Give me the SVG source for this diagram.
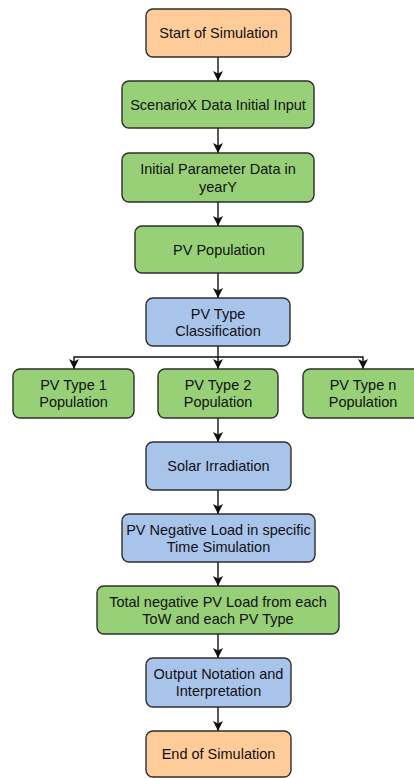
<svg xmlns="http://www.w3.org/2000/svg" width="414" height="778" viewBox="0 0 414 778">
  <style>
    .box { stroke: #2e2e2e; stroke-width: 1.4; }
    .term { fill: #ffcc99; }
    .proc { fill: #97d077; }
    .info { fill: #a9c4eb; }
    .lbl { font-family: "Liberation Sans", Arial, sans-serif; font-size: 14.5px; fill: #111111; text-anchor: middle; dominant-baseline: central; }
    .edge { stroke: #111111; stroke-width: 1.4; fill: none; marker-end: url(#arrow); }
  </style>
  <defs>
    <marker id="arrow" viewBox="0 0 10 10" refX="10" refY="5" markerWidth="10" markerHeight="10" markerUnits="userSpaceOnUse" orient="auto">
      <path d="M0,0 L10,5 L0,10 L2.5,5 Z" fill="#111111"/>
    </marker>
  </defs>
  <rect width="414" height="778" fill="#ffffff"/>

  <g id="connectors">
    <path class="edge" d="M218,57 V81"/>
    <path class="edge" d="M218,128 V153"/>
    <path class="edge" d="M218,202 V226"/>
    <path class="edge" d="M218,273 V298"/>
    <path class="edge" d="M218,346 V369"/>
    <path class="edge" d="M218,357 H74 V369"/>
    <path class="edge" d="M218,357 H363 V369"/>
    <path class="edge" d="M218,418 V442"/>
    <path class="edge" d="M218,490 V514"/>
    <path class="edge" d="M218,562 V586"/>
    <path class="edge" d="M218,634 V658"/>
    <path class="edge" d="M218,707 V731"/>
  </g>

  <g id="start">
    <rect class="box term" x="146" y="9" width="145" height="48" rx="7"/>
    <text class="lbl" x="218.5" y="33">Start of Simulation</text>
  </g>
  <g id="scenario-input">
    <rect class="box proc" x="122" y="81" width="192" height="47" rx="7"/>
    <text class="lbl" x="218" y="104.5">ScenarioX Data Initial Input</text>
  </g>
  <g id="initial-parameters">
    <rect class="box proc" x="122" y="153" width="192" height="49" rx="7"/>
    <text class="lbl" x="218" y="168.5">Initial Parameter Data in</text>
    <text class="lbl" x="218" y="186.5">yearY</text>
  </g>
  <g id="pv-population">
    <rect class="box proc" x="135" y="226" width="168" height="47" rx="7"/>
    <text class="lbl" x="219" y="249.5">PV Population</text>
  </g>
  <g id="pv-type-classification">
    <rect class="box info" x="146" y="298" width="144" height="48" rx="7"/>
    <text class="lbl" x="218" y="313.5">PV Type</text>
    <text class="lbl" x="218" y="330.5">Classification</text>
  </g>
  <g id="pv-type-1">
    <rect class="box proc" x="13" y="369" width="121" height="49" rx="7"/>
    <text class="lbl" x="73.5" y="385">PV Type 1</text>
    <text class="lbl" x="73.5" y="402">Population</text>
  </g>
  <g id="pv-type-2">
    <rect class="box proc" x="158" y="369" width="120" height="49" rx="7"/>
    <text class="lbl" x="218" y="385">PV Type 2</text>
    <text class="lbl" x="218" y="402">Population</text>
  </g>
  <g id="pv-type-n">
    <rect class="box proc" x="303" y="369" width="121" height="49" rx="7"/>
    <text class="lbl" x="363" y="385">PV Type n</text>
    <text class="lbl" x="363" y="402">Population</text>
  </g>
  <g id="solar-irradiation">
    <rect class="box info" x="146" y="442" width="145" height="48" rx="7"/>
    <text class="lbl" x="218.5" y="466">Solar Irradiation</text>
  </g>
  <g id="pv-negative-load">
    <rect class="box info" x="122" y="514" width="193" height="48" rx="7"/>
    <text class="lbl" x="218.5" y="529.5">PV Negative Load in specific</text>
    <text class="lbl" x="218.5" y="546.5">Time Simulation</text>
  </g>
  <g id="total-negative-load">
    <rect class="box proc" x="97" y="586" width="242" height="48" rx="7"/>
    <text class="lbl" x="218" y="601.5">Total negative PV Load from each</text>
    <text class="lbl" x="218" y="618.5">ToW and each PV Type</text>
  </g>
  <g id="output-notation">
    <rect class="box info" x="146" y="658" width="145" height="49" rx="7"/>
    <text class="lbl" x="218.5" y="673.5">Output Notation and</text>
    <text class="lbl" x="218.5" y="690.5">Interpretation</text>
  </g>
  <g id="end">
    <rect class="box term" x="146" y="731" width="145" height="46" rx="7"/>
    <text class="lbl" x="218.5" y="754">End of Simulation</text>
  </g>
</svg>
